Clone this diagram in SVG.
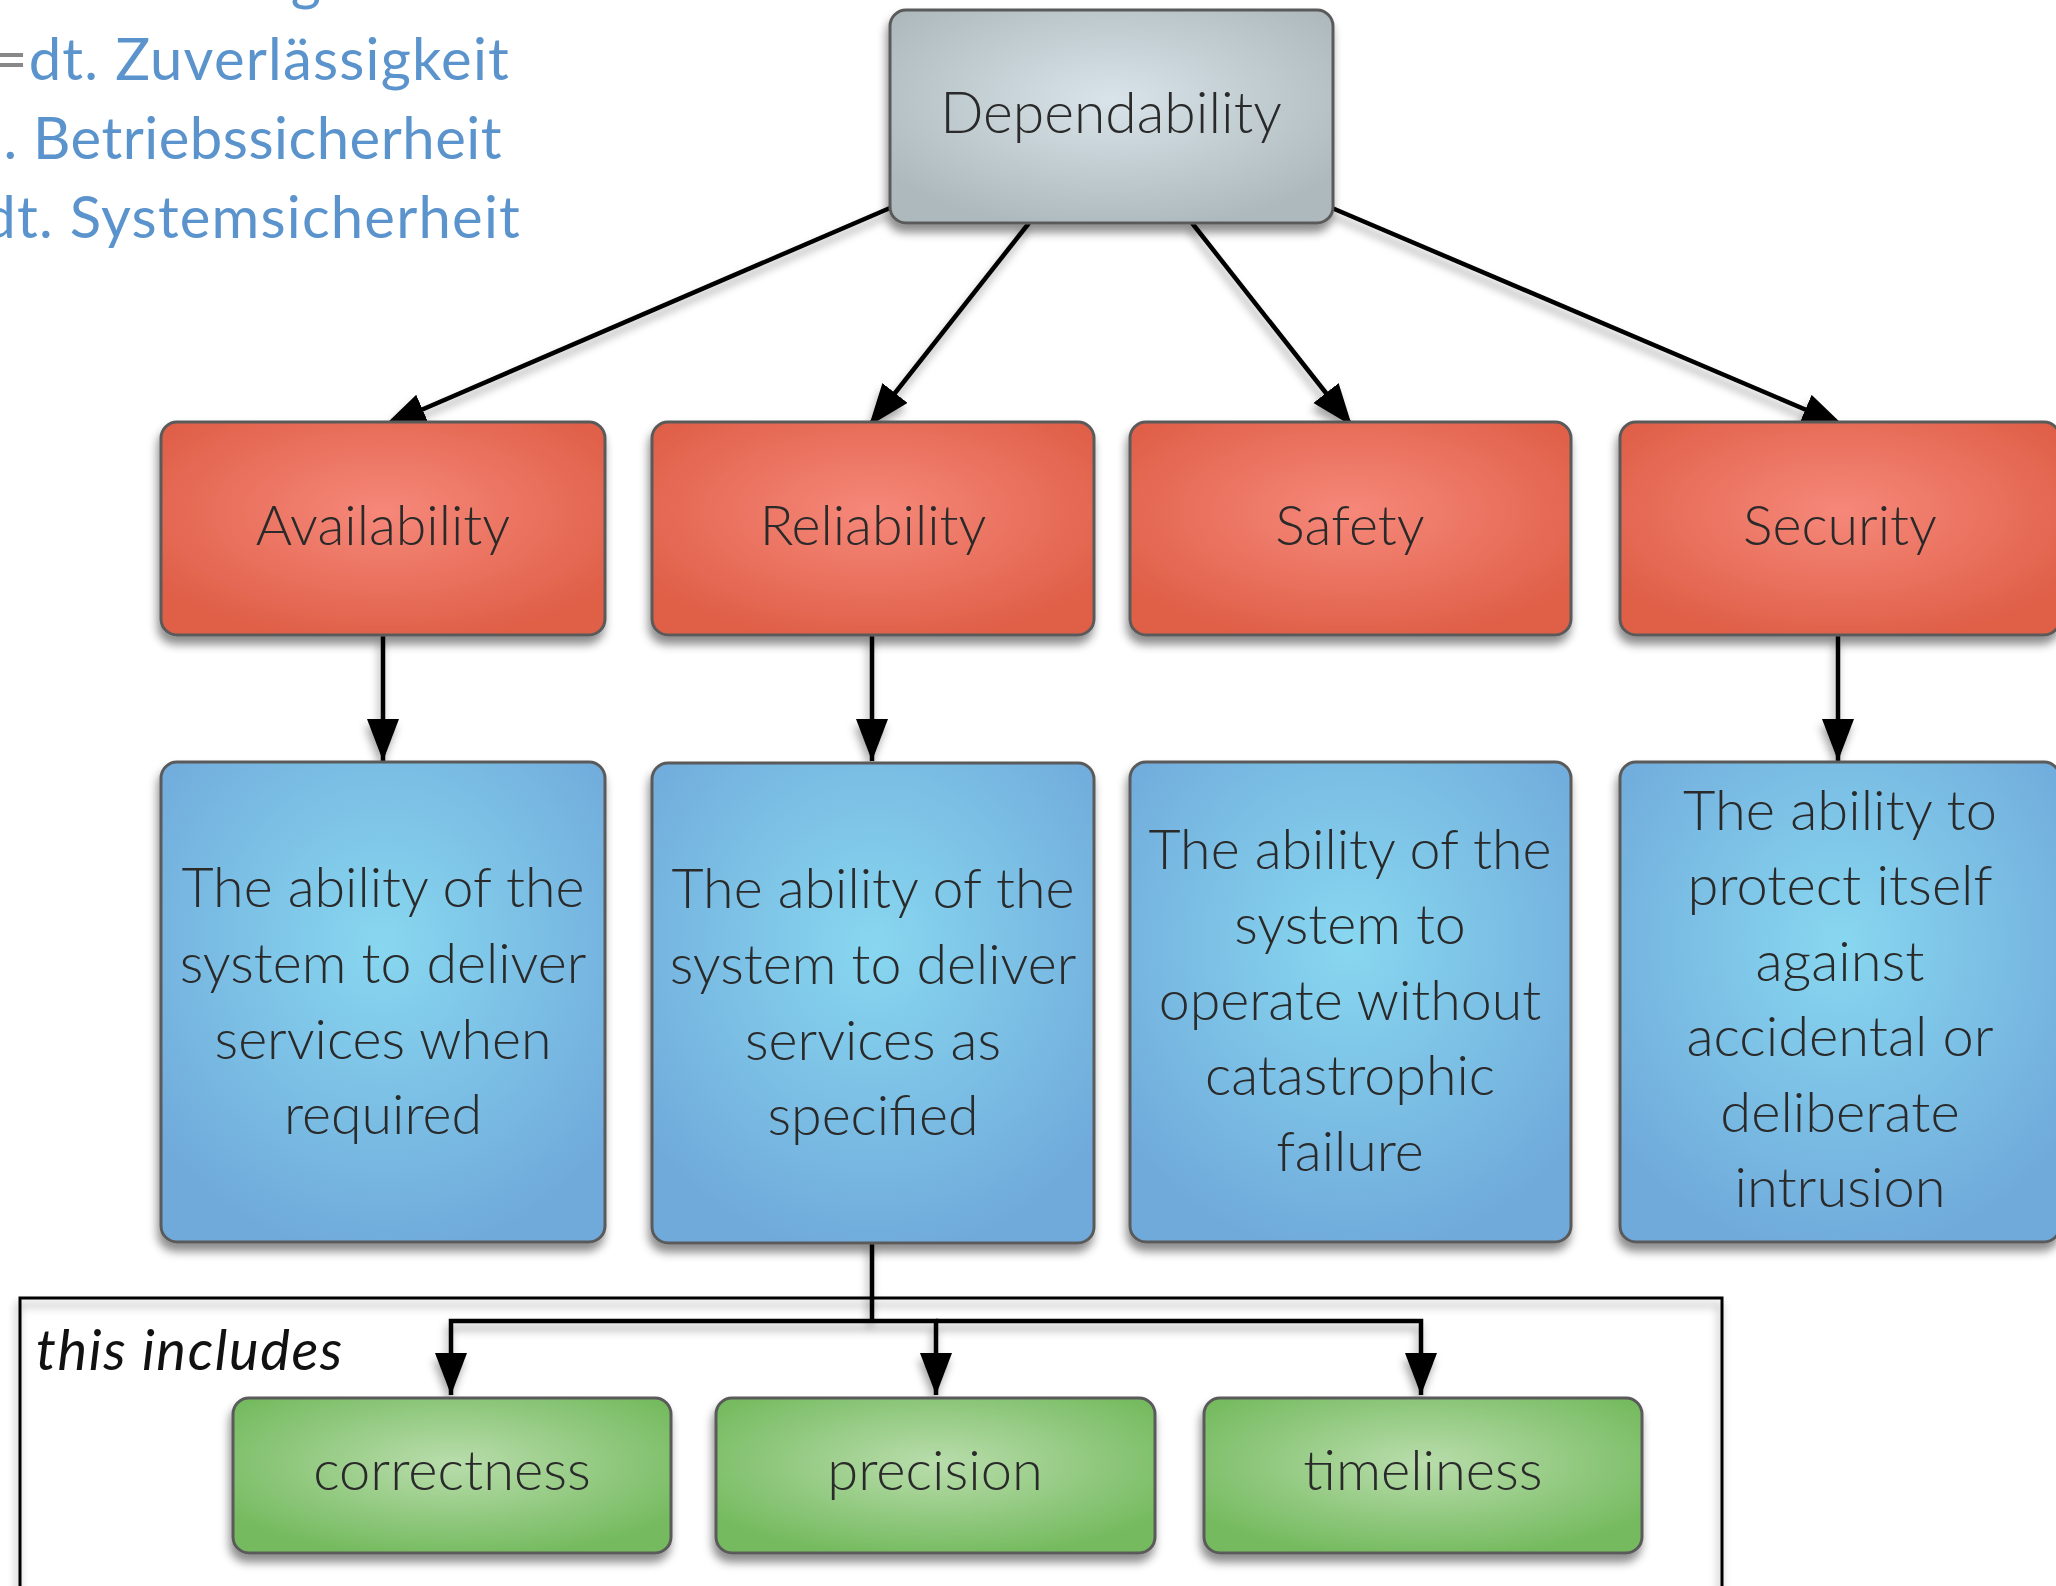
<svg xmlns="http://www.w3.org/2000/svg" width="2056" height="1586" viewBox="0 0 2056 1586">
<defs>
<style>
.box{stroke:#5a5a5a;stroke-width:3;filter:url(#sh)}
.nt{font-family:Lato,"Noto Sans",sans-serif;font-weight:300;fill:#2a2a2a;text-anchor:middle}
.ger{font-family:Lato,"Noto Sans",sans-serif;font-weight:400;font-size:58px;letter-spacing:1.2px;fill:#5b94cc;text-anchor:end}
.con{stroke:#000;stroke-width:4.5;fill:none}
.arr{marker-end:url(#ah)}
</style>
<filter id="sh" x="-10%" y="-10%" width="120%" height="130%">
<feDropShadow dx="-2" dy="8" stdDeviation="5" flood-color="#000" flood-opacity="0.45"/>
</filter>
<filter id="sh2" x="-10%" y="-10%" width="120%" height="130%">
<feDropShadow dx="-2" dy="7" stdDeviation="4" flood-color="#000" flood-opacity="0.35"/>
</filter>
<marker id="ah" markerUnits="userSpaceOnUse" markerWidth="44" markerHeight="34" refX="42" refY="16" orient="auto">
<path d="M0,0 L42,16 L0,32 z" fill="#000"/>
</marker>
<radialGradient id="gGray" cx="0.5" cy="0.42" r="0.62">
<stop offset="0" stop-color="#d9e4ea"/><stop offset="1" stop-color="#aeb9bd"/>
</radialGradient>
<radialGradient id="gRed" cx="0.5" cy="0.42" r="0.62">
<stop offset="0" stop-color="#f6887a"/><stop offset="1" stop-color="#df5f47"/>
</radialGradient>
<radialGradient id="gBlue" cx="0.5" cy="0.38" r="0.65">
<stop offset="0" stop-color="#88d7f0"/><stop offset="1" stop-color="#70aadb"/>
</radialGradient>
<radialGradient id="gGreen" cx="0.5" cy="0.42" r="0.62">
<stop offset="0" stop-color="#b9ddac"/><stop offset="1" stop-color="#74ba5e"/>
</radialGradient>
</defs>
<rect width="2056" height="1586" fill="#fff"/>

<g id="german-notes">
<text class="ger" x="506" y="-1"><tspan fill="#888">=</tspan>dt. Verfügbarkeit</text>
<text class="ger" x="510" y="80"><tspan fill="#888">=</tspan>dt. Zuverlässigkeit</text>
<text class="ger" x="502" y="159" style="letter-spacing:0.5px">. Betriebssicherheit</text>
<text class="ger" x="521" y="238">dt. Systemsicherheit</text>
</g>

<g id="includes-frame">
<rect x="20" y="1298" width="1702" height="320" fill="none" stroke="#000" stroke-width="3" filter="url(#sh2)"/>
<text x="36" y="1370" font-family="Lato,'Noto Sans',sans-serif" font-style="italic" font-size="56" letter-spacing="1.6" fill="#111">this includes</text>
</g>

<g id="connectors" filter="url(#sh2)">
<line class="con arr" x1="890" y1="208" x2="384" y2="426"/>
<line class="con arr" x1="1029" y1="223" x2="869" y2="426"/>
<line class="con arr" x1="1192" y1="223" x2="1352" y2="426"/>
<line class="con arr" x1="1332" y1="208" x2="1844" y2="426"/>
<line class="con arr" x1="383" y1="635" x2="383" y2="761"/>
<line class="con arr" x1="872" y1="635" x2="872" y2="761"/>
<line class="con arr" x1="1838" y1="635" x2="1838" y2="761"/>
<polyline class="con" points="872,1242 872,1321"/>
<polyline class="con arr" points="872,1321 451,1321 451,1395"/>
<polyline class="con arr" points="872,1321 936,1321 936,1395"/>
<polyline class="con arr" points="936,1321 1421,1321 1421,1395"/>
</g>

<g id="dependability">
<rect class="box" x="890" y="10" width="443" height="213" rx="16" fill="url(#gGray)"/>
<text class="nt" x="1111" y="133" font-size="57">Dependability</text>
</g>

<g id="availability">
<rect class="box" x="161" y="422" width="444" height="213" rx="16" fill="url(#gRed)"/>
<text class="nt" x="383" y="545" font-size="55.5">Availability</text>
</g>
<g id="reliability">
<rect class="box" x="652" y="422" width="442" height="213" rx="16" fill="url(#gRed)"/>
<text class="nt" x="873" y="545" font-size="55.5">Reliability</text>
</g>
<g id="safety">
<rect class="box" x="1130" y="422" width="441" height="213" rx="16" fill="url(#gRed)"/>
<text class="nt" x="1350" y="545" font-size="55.5">Safety</text>
</g>
<g id="security">
<rect class="box" x="1620" y="422" width="440" height="213" rx="16" fill="url(#gRed)"/>
<text class="nt" x="1840" y="545" font-size="55.5">Security</text>
</g>

<g id="availability-desc">
<rect class="box" x="161" y="762" width="444" height="480" rx="16" fill="url(#gBlue)"/>
<text class="nt" font-size="55.5"><tspan x="383" y="907">The ability of the</tspan><tspan x="383" y="983">system to deliver</tspan><tspan x="383" y="1059">services when</tspan><tspan x="383" y="1134">required</tspan></text>
</g>
<g id="reliability-desc">
<rect class="box" x="652" y="763" width="442" height="480" rx="16" fill="url(#gBlue)"/>
<text class="nt" font-size="55.5"><tspan x="873" y="908">The ability of the</tspan><tspan x="873" y="984">system to deliver</tspan><tspan x="873" y="1060">services as</tspan><tspan x="873" y="1135">specified</tspan></text>
</g>
<g id="safety-desc">
<rect class="box" x="1130" y="762" width="441" height="480" rx="16" fill="url(#gBlue)"/>
<text class="nt" font-size="55.5"><tspan x="1350" y="869">The ability of the</tspan><tspan x="1350" y="944">system to</tspan><tspan x="1350" y="1020">operate without</tspan><tspan x="1350" y="1095">catastrophic</tspan><tspan x="1350" y="1171">failure</tspan></text>
</g>
<g id="security-desc">
<rect class="box" x="1620" y="762" width="440" height="480" rx="16" fill="url(#gBlue)"/>
<text class="nt" font-size="56"><tspan x="1840" y="830">The ability to</tspan><tspan x="1840" y="905">protect itself</tspan><tspan x="1840" y="981">against</tspan><tspan x="1840" y="1056">accidental or</tspan><tspan x="1840" y="1132">deliberate</tspan><tspan x="1840" y="1207">intrusion</tspan></text>
</g>

<g id="correctness">
<rect class="box" x="233" y="1398" width="438" height="155" rx="16" fill="url(#gGreen)"/>
<text class="nt" x="452" y="1490" font-size="56">correctness</text>
</g>
<g id="precision">
<rect class="box" x="716" y="1398" width="439" height="155" rx="16" fill="url(#gGreen)"/>
<text class="nt" x="935" y="1490" font-size="56">precision</text>
</g>
<g id="timeliness">
<rect class="box" x="1204" y="1398" width="438" height="155" rx="16" fill="url(#gGreen)"/>
<text class="nt" x="1423" y="1490" font-size="56">timeliness</text>
</g>
</svg>
